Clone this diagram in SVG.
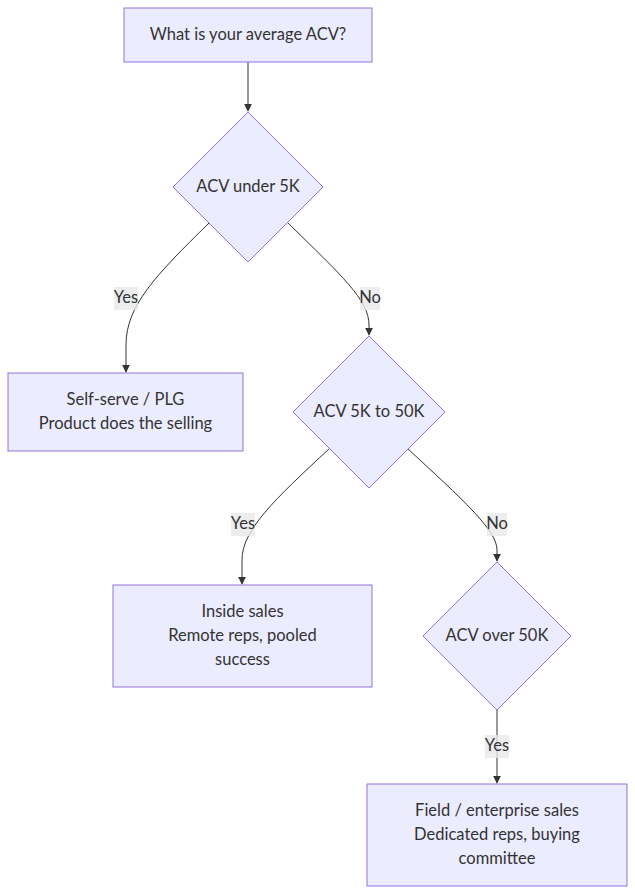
<svg xmlns="http://www.w3.org/2000/svg" width="635" height="894" viewBox="0 0 635 894">
<style>
.node rect,.node polygon{fill:#ECECFF;stroke:#9370DB;stroke-width:1px}
text{font-family:Lato,"Open Sans","Liberation Sans",sans-serif;font-size:16.5px;fill:#333;text-anchor:middle;dominant-baseline:central}
.edge{fill:none;stroke:#333;stroke-width:1px}
.lbl rect{fill:#e8e8e8;opacity:0.8}
</style>
<defs>
<marker id="arr" viewBox="0 0 10 10" refX="9" refY="5" markerWidth="8" markerHeight="8" markerUnits="userSpaceOnUse" orient="auto">
<path d="M0,0 L10,5 L0,10 z" fill="#333"/>
</marker>
</defs>
<g id="edges">
<path class="edge" d="M248,62 L248,111" marker-end="url(#arr)"/>
<path class="edge" d="M209,223 C155,276 126,306 126,345 L126,372" marker-end="url(#arr)"/>
<path class="edge" d="M288,223 C342,276 369,300 369,325 L369,335" marker-end="url(#arr)"/>
<path class="edge" d="M330,448 C274,500 242,530 242,560 L242,584" marker-end="url(#arr)"/>
<path class="edge" d="M407,448 C463,500 497,530 497,550 L497,561" marker-end="url(#arr)"/>
<path class="edge" d="M497,710 L497,783" marker-end="url(#arr)"/>
</g>
<g id="edge-labels">
<g class="lbl"><rect x="114" y="287" width="24" height="23"/><text x="126" y="297">Yes</text></g>
<g class="lbl"><rect x="360" y="287" width="20" height="23"/><text x="370" y="297">No</text></g>
<g class="lbl"><rect x="231" y="513" width="24" height="23"/><text x="243" y="523">Yes</text></g>
<g class="lbl"><rect x="487" y="513" width="20" height="23"/><text x="497" y="523">No</text></g>
<g class="lbl"><rect x="485" y="735" width="24" height="23"/><text x="497" y="745">Yes</text></g>
</g>
<g id="A" class="node"><rect x="124" y="8" width="248" height="54"/><text x="248" y="33.5">What is your average ACV?</text></g>
<g id="B" class="node"><polygon points="248,112 323,187 248,262 173,187"/><text x="248" y="185.5">ACV under 5K</text></g>
<g id="C" class="node"><rect x="8" y="373" width="235" height="78"/><text x="125.5" y="398.5">Self-serve / PLG</text><text x="125.5" y="422.5">Product does the selling</text></g>
<g id="D" class="node"><polygon points="369,336 445,412 369,488 293,412"/><text x="369" y="410.5">ACV 5K to 50K</text></g>
<g id="E" class="node"><rect x="113" y="585" width="259" height="102"/><text x="242.5" y="610.5">Inside sales</text><text x="242.5" y="634.5">Remote reps, pooled</text><text x="242.5" y="658.5">success</text></g>
<g id="F" class="node"><polygon points="497,562 571,636 497,710 423,636"/><text x="497" y="634.5">ACV over 50K</text></g>
<g id="G" class="node"><rect x="367" y="784" width="260" height="102"/><text x="497" y="809.5">Field / enterprise sales</text><text x="497" y="833.5">Dedicated reps, buying</text><text x="497" y="857.5">committee</text></g>
</svg>
